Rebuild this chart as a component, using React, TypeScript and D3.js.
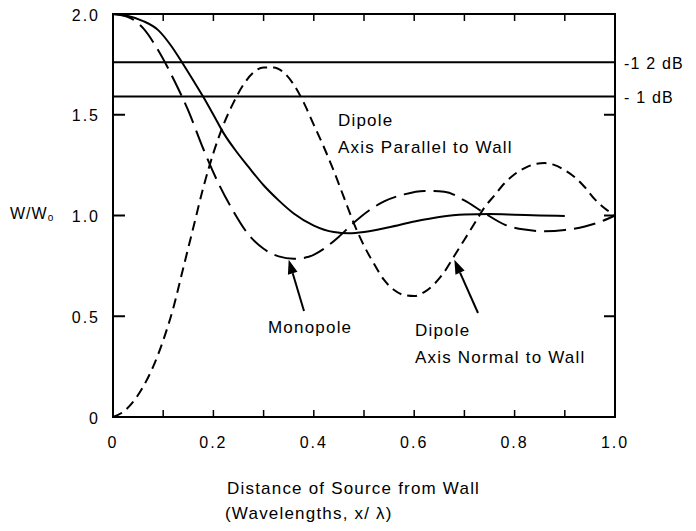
import * as d3 from "d3";

const W = 696;
const H = 531;
// plot box in pixels
const BOX = { left: 113, right: 615, top: 14, bottom: 417 };

// Monopole (long dash)
const monoX = [0, 0.03, 0.06, 0.09, 0.12, 0.15, 0.18, 0.21, 0.24, 0.27, 0.3, 0.33, 0.36, 0.39, 0.42, 0.45, 0.48, 0.51, 0.54, 0.58, 0.62, 0.66, 0.7, 0.74, 0.78, 0.82, 0.86, 0.9, 0.94, 0.97, 1.0];
const monoY = [2.0, 1.985, 1.93, 1.82, 1.68, 1.52, 1.33, 1.16, 1.02, 0.905, 0.835, 0.797, 0.785, 0.795, 0.835, 0.895, 0.965, 1.025, 1.07, 1.105, 1.122, 1.118, 1.075, 1.012, 0.955, 0.93, 0.922, 0.928, 0.945, 0.968, 1.0];

// Dipole, axis parallel to wall (solid)
const parX = [0, 0.03, 0.06, 0.09, 0.115, 0.137, 0.16, 0.18, 0.2, 0.22, 0.245, 0.27, 0.3, 0.33, 0.36, 0.4, 0.44, 0.47, 0.5, 0.55, 0.6, 0.65, 0.7, 0.75, 0.8, 0.85, 0.9];
const parY = [2.0, 1.99, 1.965, 1.92, 1.845, 1.762, 1.67, 1.588, 1.5, 1.41, 1.32, 1.241, 1.15, 1.075, 1.01, 0.95, 0.918, 0.912, 0.918, 0.942, 0.97, 0.993, 1.005, 1.007, 1.004, 1.0, 0.998];

// Dipole, axis normal to wall (short dash)
const normX = [0, 0.02, 0.04, 0.06, 0.08, 0.1, 0.12, 0.14, 0.16, 0.18, 0.2, 0.22, 0.24, 0.26, 0.28, 0.3, 0.32, 0.34, 0.36, 0.38, 0.4, 0.42, 0.44, 0.46, 0.48, 0.5, 0.52, 0.54, 0.56, 0.58, 0.6, 0.62, 0.64, 0.66, 0.68, 0.7, 0.72, 0.74, 0.76, 0.78, 0.8, 0.82, 0.84, 0.86, 0.88, 0.9, 0.92, 0.94, 0.96, 0.98, 1.0];
const normY = [0, 0.025, 0.075, 0.15, 0.25, 0.38, 0.54, 0.74, 0.94, 1.14, 1.31, 1.45, 1.56, 1.65, 1.71, 1.735, 1.735, 1.71, 1.65, 1.56, 1.45, 1.34, 1.22, 1.09, 0.96, 0.85, 0.76, 0.68, 0.63, 0.605, 0.6, 0.62, 0.66, 0.72, 0.8, 0.88, 0.96, 1.04, 1.1, 1.16, 1.205, 1.235, 1.255, 1.26, 1.25, 1.225, 1.19, 1.14, 1.08, 1.035, 1.0];

// reference levels and their labels
const refLevels = [1.76, 1.59];
const refLabels = ["-1 2 dB", "- 1 dB"];

const xTickLabels = [0, 0.2, 0.4, 0.6, 0.8, 1.0];
const yTickLabels = [0, 0.5, 1.0, 1.5, 2.0];

const FONT = "'Liberation Sans', Arial, Helvetica, sans-serif";

type Pt = { x: number; y: number };
const zip = (xs: number[], ys: number[]): Pt[] => xs.map((x, i) => ({ x, y: ys[i] }));

export default function App() {
  const x = d3.scaleLinear().domain([0, 1]).range([BOX.left, BOX.right]);
  const y = d3.scaleLinear().domain([0, 2]).range([BOX.bottom, BOX.top]);

  const line = d3
    .line<Pt>()
    .x((d) => x(d.x))
    .y((d) => y(d.y))
    .curve(d3.curveMonotoneX);

  const minorTicks = d3.range(1, 10).map((i) => i / 10);

  // arrow from label to curve
  const arrow = (x1: number, y1: number, x2: number, y2: number) => {
    const ang = Math.atan2(y2 - y1, x2 - x1);
    const len = 14;
    const half = 5;
    const bx = x2 - len * Math.cos(ang);
    const by = y2 - len * Math.sin(ang);
    const px = -Math.sin(ang) * half;
    const py = Math.cos(ang) * half;
    return (
      <g>
        <line x1={x1} y1={y1} x2={bx} y2={by} stroke="#000" strokeWidth={2} />
        <path d={`M${x2},${y2}L${bx + px},${by + py}L${bx - px},${by - py}Z`} fill="#000" />
      </g>
    );
  };

  const txt = { fontFamily: FONT, fontSize: 17, letterSpacing: 1.2, fill: "#000" } as const;

  return (
    <svg width={W} height={H} style={{ position: "absolute", left: 0, top: 0, background: "#fff" }}>
      {/* frame */}
      <rect
        x={BOX.left}
        y={BOX.top}
        width={BOX.right - BOX.left}
        height={BOX.bottom - BOX.top}
        fill="none"
        stroke="#000"
        strokeWidth={2}
      />
      {minorTicks.map((t) => (
        <g key={t}>
          <line x1={x(t)} x2={x(t)} y1={BOX.top} y2={BOX.top + 7} stroke="#000" strokeWidth={1.5} />
          <line x1={x(t)} x2={x(t)} y1={BOX.bottom} y2={BOX.bottom - 7} stroke="#000" strokeWidth={1.5} />
        </g>
      ))}
      {[0.5, 1.0, 1.5].map((t) => (
        <g key={t}>
          <line x1={BOX.left} x2={BOX.left + 12} y1={y(t)} y2={y(t)} stroke="#000" strokeWidth={2} />
          <line x1={BOX.right} x2={BOX.right - 11} y1={y(t)} y2={y(t)} stroke="#000" strokeWidth={2} />
        </g>
      ))}

      {/* reference levels */}
      {refLevels.map((v, i) => (
        <g key={v}>
          <line x1={BOX.left} x2={BOX.right} y1={y(v)} y2={y(v)} stroke="#000" strokeWidth={2} />
          <text x={BOX.right + 9} y={y(v) + 1} dominantBaseline="central" {...txt} fontSize={16}>
            {refLabels[i]}
          </text>
        </g>
      ))}

      {/* curves */}
      <path d={line(zip(parX, parY)) || ""} fill="none" stroke="#000" strokeWidth={2} />
      <path d={line(zip(monoX, monoY)) || ""} fill="none" stroke="#000" strokeWidth={2} strokeDasharray="22 8" />
      <path d={line(zip(normX, normY)) || ""} fill="none" stroke="#000" strokeWidth={2} strokeDasharray="10 6" />

      {/* tick labels */}
      {xTickLabels.map((t) => (
        <text key={t} x={x(t)} y={442} textAnchor="middle" dominantBaseline="central" {...txt} fontSize={16} letterSpacing={2}>
          {t === 0 ? "0" : t.toFixed(1)}
        </text>
      ))}
      {yTickLabels.map((t) => (
        <text key={t} x={100} y={y(t) + 1} textAnchor="end" dominantBaseline="central" {...txt} fontSize={16} letterSpacing={2}>
          {t === 0 ? "0" : t.toFixed(1)}
        </text>
      ))}
      <text x={10} y={213} dominantBaseline="central" {...txt} fontSize={16} letterSpacing={1}>
        W/W<tspan fontSize={10} dy={4}>o</tspan>
      </text>

      {/* annotations */}
      <text x={338} y={120} dominantBaseline="central" {...txt}>Dipole</text>
      <text x={338} y={147} dominantBaseline="central" {...txt}>Axis Parallel to Wall</text>
      <text x={268} y={327} dominantBaseline="central" {...txt}>Monopole</text>
      <text x={415} y={330} dominantBaseline="central" {...txt}>Dipole</text>
      <text x={415} y={357} dominantBaseline="central" {...txt}>Axis Normal to Wall</text>
      {arrow(304, 311, x(0.35), y(0.78))}
      {arrow(478, 313, x(0.68), y(0.78))}

      {/* axis title */}
      <text x={227} y={488} dominantBaseline="central" {...txt}>Distance of Source from Wall</text>
      <text x={225} y={513} dominantBaseline="central" {...txt}>(Wavelengths, x/ λ)</text>
    </svg>
  );
}
